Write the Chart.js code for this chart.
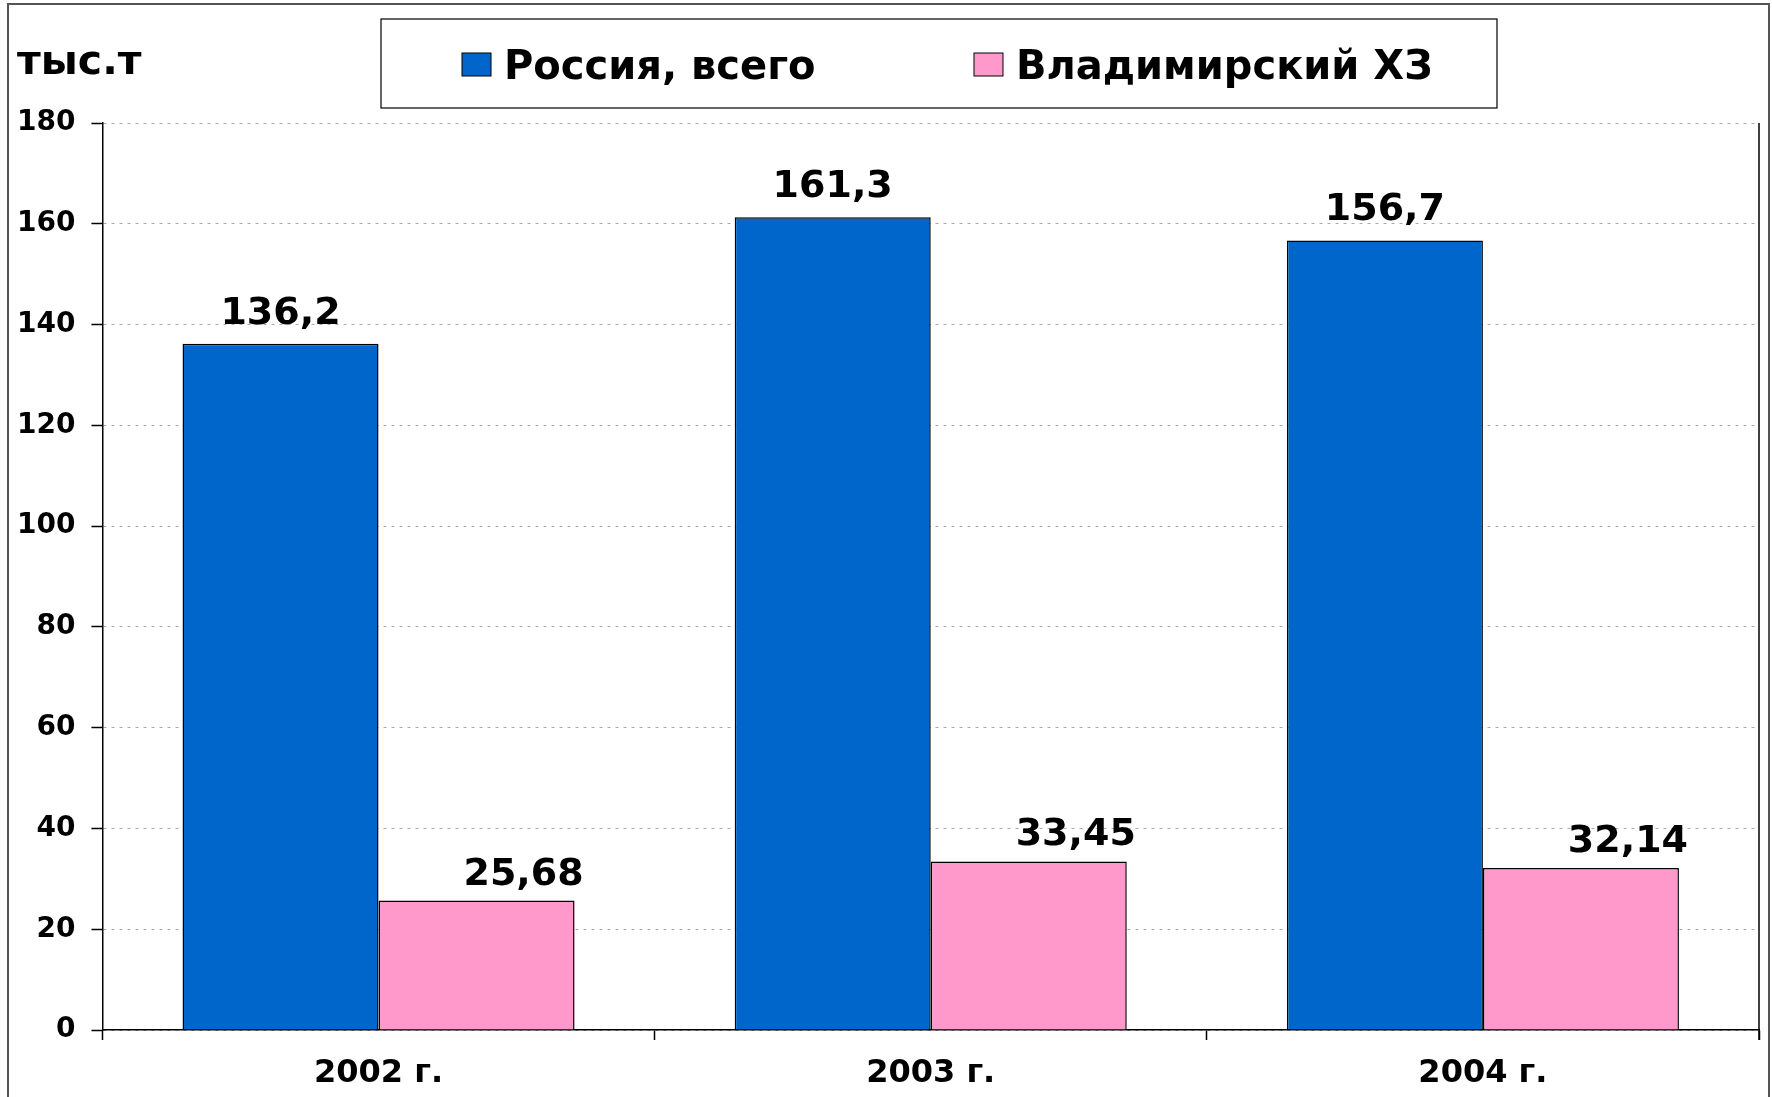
<!DOCTYPE html>
<html>
<head>
<meta charset="utf-8">
<script src="https://cdn.jsdelivr.net/npm/chart.js@4/dist/chart.umd.min.js"></script>
<style>
  html, body { margin: 0; padding: 0; background: #fff; }
  #wrap { width: 1772px; height: 1097px; position: relative; }
</style>
</head>
<body>
<div id="wrap"><canvas id="chart" role="img" aria-label="Производство: Россия, всего и Владимирский ХЗ, 2002-2004 гг."></canvas></div>
<script>
const years = ['2002 г.', '2003 г.', '2004 г.'];
const russiaTotal = [136.2, 161.3, 156.7];
const vladimirKhz = [25.68, 33.45, 32.14];
const seriesNames = ['Россия, всего', 'Владимирский ХЗ'];
const unitLabel = 'тыс.т';
const yMax = 180;
const yStep = 20;

const FONT = '"DejaVu Sans", sans-serif';

// frame, legend box, unit caption, right plot edge
const decorPlugin = {
  id: 'decor',
  afterDraw(chart) {
    const { ctx, chartArea } = chart;
    ctx.save();
    // outer frame (bottom edge falls off the picture)
    ctx.strokeStyle = '#555';
    ctx.lineWidth = 2;
    ctx.strokeRect(8, 4, 1761, 1100);
    // right edge of plot
    ctx.strokeStyle = '#000';
    ctx.lineWidth = 1.5;
    ctx.beginPath();
    ctx.moveTo(chartArea.right, chartArea.top);
    ctx.lineTo(chartArea.right, chartArea.bottom + 10);
    ctx.stroke();
    // unit caption
    ctx.fillStyle = '#000';
    ctx.font = 'bold 41px ' + FONT;
    ctx.textBaseline = 'alphabetic';
    ctx.textAlign = 'left';
    ctx.fillText(unitLabel, 17, 74);
    // legend
    ctx.strokeStyle = '#000';
    ctx.lineWidth = 1.2;
    ctx.strokeRect(381, 19, 1116, 89);
    const itemX = [462, 974];
    chart.data.datasets.forEach((ds, i) => {
      ctx.fillStyle = ds.backgroundColor;
      ctx.fillRect(itemX[i], 53, 29, 23);
      ctx.strokeStyle = '#000';
      ctx.lineWidth = 1;
      ctx.strokeRect(itemX[i], 53, 29, 23);
      ctx.fillStyle = '#000';
      ctx.font = 'bold 40px ' + FONT;
      ctx.fillText(ds.label, itemX[i] + 42, 79);
    });
    ctx.restore();
  }
};

const valueLabels = {
  id: 'valueLabels',
  afterDatasetsDraw(chart) {
    const { ctx } = chart;
    ctx.save();
    ctx.fillStyle = '#000';
    ctx.font = 'bold 38px ' + FONT;
    ctx.textAlign = 'center';
    ctx.textBaseline = 'alphabetic';
    chart.data.datasets.forEach((ds, i) => {
      chart.getDatasetMeta(i).data.forEach((bar, j) => {
        const txt = String(ds.data[j]).replace('.', ',');
        const dx = i === 1 ? 47 : 0;
        const dy = i === 1 ? 16 : 20;
        ctx.fillText(txt, bar.x + dx, bar.y - dy);
      });
    });
    ctx.restore();
  }
};

new Chart(document.getElementById('chart'), {
  type: 'bar',
  data: {
    labels: years,
    datasets: [
      { label: seriesNames[0], data: russiaTotal, backgroundColor: '#0066CC', borderColor: '#000', borderWidth: 1.5 },
      { label: seriesNames[1], data: vladimirKhz, backgroundColor: '#FF99CC', borderColor: '#000', borderWidth: 1.5 }
    ]
  },
  options: {
    responsive: true,
    maintainAspectRatio: false,
    animation: false,
    datasets: { bar: { categoryPercentage: 0.71, barPercentage: 1.0 } },
    layout: { padding: { left: 1, right: 13, top: 123, bottom: 0 } },
    plugins: { legend: { display: false }, tooltip: { enabled: false } },
    scales: {
      x: {
        afterFit: (scale) => { scale.height = 67; },
        grid: { display: true, offset: true, drawOnChartArea: false, drawTicks: true, tickLength: 10, tickColor: '#000', tickWidth: 1.5 },
        border: { display: true, color: '#000', width: 1.5 },
        ticks: { color: '#000', font: { family: FONT, size: 32, weight: 'bold' }, padding: 14, maxRotation: 0 }
      },
      y: {
        min: 0,
        max: yMax,
        grid: { color: '#aaa', lineWidth: 1, tickColor: '#000', tickLength: 11, tickWidth: 1.5, tickBorderDash: [] },
        border: { display: true, color: '#000', width: 1.5, dash: [3, 5] },
        ticks: { stepSize: yStep, color: '#000', font: { family: FONT, size: 28, weight: 'bold' }, padding: 16 }
      }
    }
  },
  plugins: [decorPlugin, valueLabels]
});
</script>
</body>
</html>
